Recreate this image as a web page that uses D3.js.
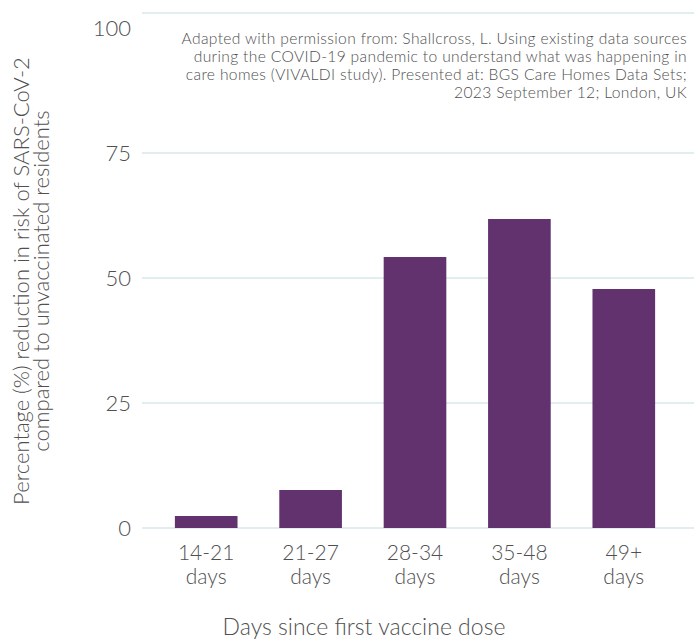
<!DOCTYPE html>
<html>
<head>
<meta charset="utf-8">
<script src="https://cdn.jsdelivr.net/npm/d3@7"></script>
<style>
  body { margin: 0; background: #fff; }
  text { font-family: Lato, "Open Sans", sans-serif; font-weight: 300; fill: #505050; }
</style>
</head>
<body>
<div id="chart"></div>
<script>
const width = 694;
const height = 640;

// Data
const categories = [["14-21", "days"], ["21-27", "days"], ["28-34", "days"], ["35-48", "days"], ["49+", "days"]];
const values = [2.4, 7.6, 54.2, 61.8, 47.8];
const yTicks = [0, 25, 50, 75, 100];
const noteLines = [
  "Adapted with permission from: Shallcross, L. Using existing data sources",
  "during the COVID-19 pandemic to understand what was happening in",
  "care homes (VIVALDI study). Presented at: BGS Care Homes Data Sets;",
  "2023 September 12; London, UK"
];

const svg = d3.select("#chart")
  .append("svg")
  .attr("width", width)
  .attr("height", height);

const x = d3.scaleBand()
  .domain(d3.range(categories.length))
  .range([154, 676])
  .paddingInner(0.4)
  .paddingOuter(0.2);

const y = d3.scaleLinear()
  .domain([0, 100])
  .range([528, 28]);

// Gridlines
svg.append("g")
  .selectAll("line")
  .data(yTicks)
  .join("line")
  .attr("x1", 142)
  .attr("x2", width)
  .attr("y1", d => y(d))
  .attr("y2", d => y(d))
  .attr("stroke", "#e2edf0")
  .attr("stroke-width", 2);

// top border line
svg.append("line")
  .attr("x1", 142).attr("x2", width)
  .attr("y1", y(103)).attr("y2", y(103))
  .attr("stroke", "#e2edf0")
  .attr("stroke-width", 2);

// Y tick labels
svg.append("g")
  .selectAll("text")
  .data(yTicks)
  .join("text")
  .attr("x", 131)
  .attr("y", d => y(d))
  .attr("dy", "0.35em")
  .attr("text-anchor", "end")
  .attr("font-size", "22px")
  .text(d => d);

// Bars
svg.append("g")
  .selectAll("rect")
  .data(values)
  .join("rect")
  .attr("x", (d, i) => x(i))
  .attr("width", x.bandwidth())
  .attr("y", d => y(d))
  .attr("height", d => y(0) - y(d))
  .attr("fill", "#62326e");

// X tick labels (two lines)
const xl = svg.append("g")
  .selectAll("text")
  .data(categories)
  .join("text")
  .attr("text-anchor", "middle")
  .attr("font-size", "21px")
  .attr("x", (d, i) => x(i) + x.bandwidth() / 2)
  .attr("y", 560);

xl.selectAll("tspan")
  .data(d => d)
  .join("tspan")
  .attr("x", function() { return this.parentNode.getAttribute("x"); })
  .attr("dy", (d, i) => i === 0 ? 0 : 24)
  .text(d => d);

// Axis titles
svg.append("text")
  .attr("x", 364)
  .attr("y", 635)
  .attr("text-anchor", "middle")
  .attr("font-size", "23px")
  .text("Days since first vaccine dose");

const yt = svg.append("text")
  .attr("transform", "translate(29,281) rotate(-90)")
  .attr("text-anchor", "middle")
  .attr("font-size", "22px");
yt.append("tspan").attr("x", 0).attr("dy", 0).text("Percentage (%) reduction in risk of SARS-CoV-2");
yt.append("tspan").attr("x", 0).attr("dy", 20).text("compared to unvaccinated residents");

// Annotation box
svg.append("rect")
  .attr("x", 142)
  .attr("y", 20)
  .attr("width", width - 142)
  .attr("height", 84)
  .attr("fill", "#fff");

svg.append("g")
  .selectAll("text")
  .data(noteLines)
  .join("text")
  .attr("x", 687)
  .attr("y", (d, i) => 44 + i * 18)
  .attr("text-anchor", "end")
  .attr("font-size", "15.6px")
  .attr("letter-spacing", "0.35px")
  .text(d => d);
</script>
</body>
</html>
